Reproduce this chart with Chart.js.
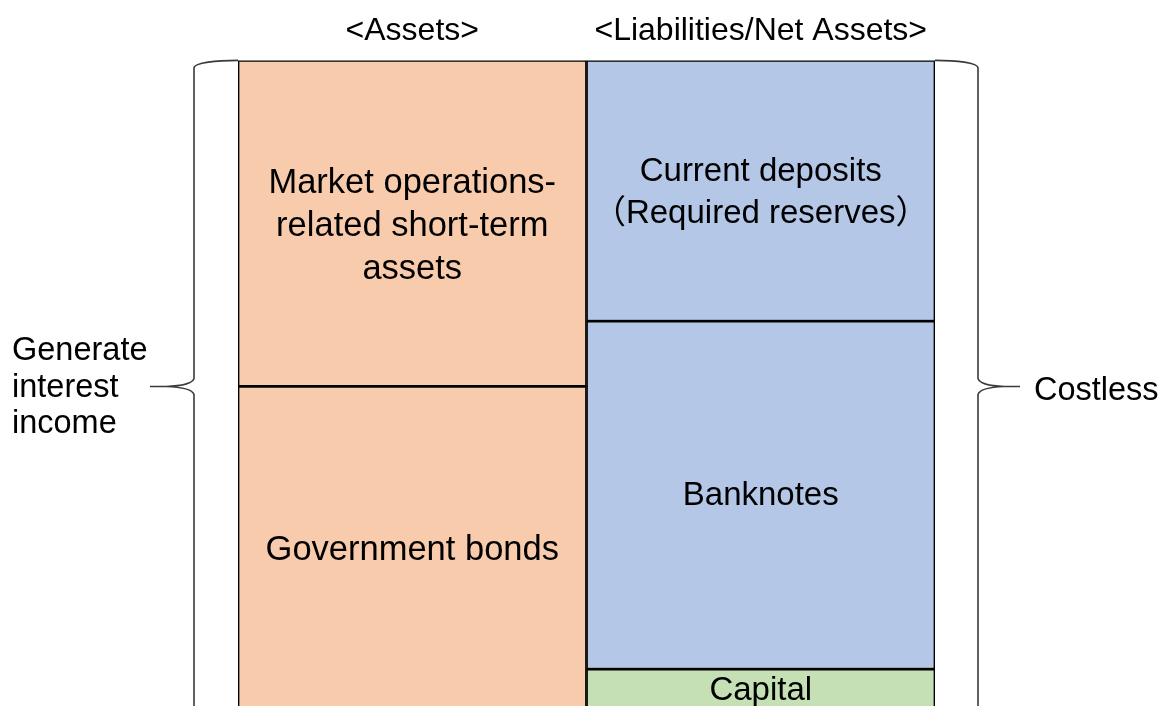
<!DOCTYPE html>
<html>
<head>
<meta charset="utf-8">
<script src="https://cdn.jsdelivr.net/npm/chart.js@4/dist/chart.umd.min.js"></script>
<style>
  html, body { margin: 0; padding: 0; background: #ffffff; overflow: hidden; }
  #wrap { width: 1169px; height: 706px; }
</style>
</head>
<body>
<div id="wrap"><canvas id="c" width="1169" height="706"></canvas></div>
<script>
// ---- data ----
const categories = ['<Assets>', '<Liabilities/Net Assets>'];
const governmentBonds = [49.5, null];
const marketOperations = [50.5, null];
const capital = [null, 5.7];
const banknotes = [null, 53.9];
const currentDeposits = [null, 40.4];
const segmentNames = [
  ['Government bonds'],
  ['Market operations-', 'related short-term', 'assets'],
  ['Capital'],
  ['Banknotes'],
  ['Current deposits', '（Required reserves）']
];
const leftBraceLabel = ['Generate', 'interest', 'income'];
const rightBraceLabel = ['Costless'];

const FONT = "'Liberation Sans', Arial, 'Noto Sans CJK JP', sans-serif";
const ORANGE = '#F8CBAD', BLUE = '#B4C7E7', GREEN = '#C5E0B4';

const segmentFontSizes = [34.5, 34.5, 33, 33, 33];
const segmentLineHeights = [43, 43, 42, 42, 42];
const segmentYOffsets = [4, 3, 3, 1, 2];

const labelPlugin = {
  id: 'segmentLabels',
  afterDatasetsDraw(chart) {
    const ctx = chart.ctx;
    ctx.save();
    ctx.fillStyle = '#000';
    ctx.textAlign = 'center';
    ctx.textBaseline = 'middle';
    chart.data.datasets.forEach((ds, di) => {
      const meta = chart.getDatasetMeta(di);
      meta.data.forEach((el, i) => {
        if (ds.data[i] == null) return;
        const lines = segmentNames[di];
        const lh = segmentLineHeights[di];
        ctx.font = segmentFontSizes[di] + 'px ' + FONT;
        const cy = (el.y + el.base) / 2 + segmentYOffsets[di];
        const start = cy - (lines.length - 1) * lh / 2;
        lines.forEach((t, k) => ctx.fillText(t, el.x, start + k * lh));
      });
    });
    ctx.restore();
  }
};

const bracePlugin = {
  id: 'braces',
  afterDraw(chart) {
    const ctx = chart.ctx;
    const a = chart.chartArea;
    const y = chart.scales.y;
    const mid = y.getPixelForValue(governmentBonds[0]);
    const T = a.top, B = chart.height + 2;
    ctx.save();
    ctx.strokeStyle = '#3a3a3a';
    ctx.lineWidth = 1.6;
    // left brace
    const lx = a.left - 44, ltip = a.left - 88, lk = a.left - 72;
    ctx.beginPath();
    ctx.moveTo(a.left, T);
    ctx.bezierCurveTo(a.left - 20, T, lx - 1, T + 2, lx, T + 8);
    ctx.lineTo(lx, mid - 8);
    ctx.quadraticCurveTo(lx - 2, mid - 1, lk, mid);
    ctx.lineTo(ltip, mid);
    ctx.moveTo(lk, mid);
    ctx.quadraticCurveTo(lx - 2, mid + 1, lx, mid + 8);
    ctx.lineTo(lx, B);
    ctx.stroke();
    // right brace
    const rx = a.right + 43, rtip = a.right + 85, rk = a.right + 69;
    ctx.beginPath();
    ctx.moveTo(a.right, T);
    ctx.bezierCurveTo(a.right + 20, T, rx + 1, T + 2, rx, T + 8);
    ctx.lineTo(rx, mid - 8);
    ctx.quadraticCurveTo(rx + 2, mid - 1, rk, mid);
    ctx.lineTo(rtip, mid);
    ctx.moveTo(rk, mid);
    ctx.quadraticCurveTo(rx + 2, mid + 1, rx, mid + 8);
    ctx.lineTo(rx, B);
    ctx.stroke();
    // side labels
    ctx.fillStyle = '#000';
    ctx.textBaseline = 'middle';
    ctx.font = '32.5px ' + FONT;
    ctx.textAlign = 'left';
    leftBraceLabel.forEach((t, k) => ctx.fillText(t, 12, mid - 35 + k * 36.5));
    ctx.fillText(rightBraceLabel[0], a.right + 99, mid + 5);
    ctx.restore();
  }
};

const makeDs = (label, data, color, skip) => ({
  label, data, backgroundColor: color, borderColor: '#000', borderWidth: 1.7,
  borderSkipped: skip, barPercentage: 1, categoryPercentage: 1
});

new Chart(document.getElementById('c'), {
  type: 'bar',
  data: {
    labels: categories,
    datasets: [
      makeDs('Government bonds', governmentBonds, ORANGE, 'bottom'),
      makeDs('Market operations-related short-term assets', marketOperations, ORANGE, false),
      makeDs('Capital', capital, GREEN, 'bottom'),
      makeDs('Banknotes', banknotes, BLUE, false),
      makeDs('Current deposits (Required reserves)', currentDeposits, BLUE, false)
    ]
  },
  options: {
    responsive: false,
    devicePixelRatio: 1,
    animation: false,
    layout: { padding: { top: 2, left: 238, right: 234, bottom: 0 } },
    plugins: { legend: { display: false }, tooltip: { enabled: false }, title: { display: false } },
    scales: {
      x: {
        position: 'top', stacked: true,
        grid: { display: false, drawTicks: false, tickLength: 0 },
        border: { display: false },
        ticks: { color: '#000', padding: 10, font: { family: FONT, size: 32 } }
      },
      y: { display: false, stacked: true, min: 0, max: 100 }
    }
  },
  plugins: [labelPlugin, bracePlugin]
});
</script>
</body>
</html>
